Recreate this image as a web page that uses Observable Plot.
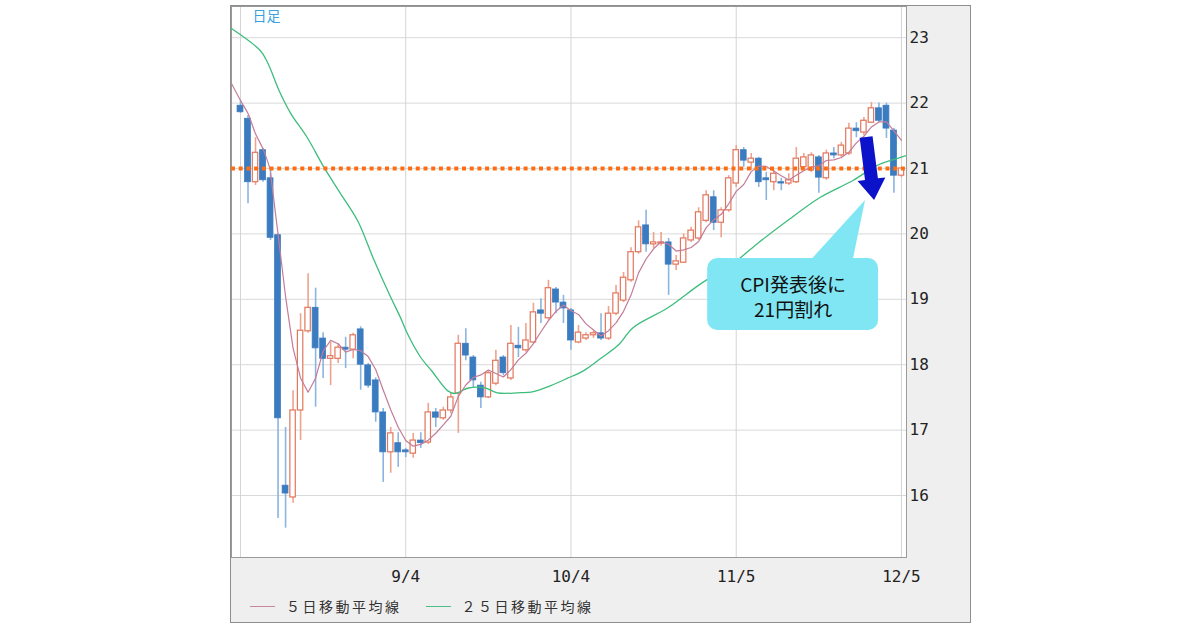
<!DOCTYPE html>
<html><head><meta charset="utf-8">
<script src="https://cdn.jsdelivr.net/npm/d3@7"></script>
<script src="https://cdn.jsdelivr.net/npm/@observablehq/plot@0.6"></script>
<style>
html,body{margin:0;padding:0;background:#fff;width:1200px;height:630px;overflow:hidden;}
#frame{position:absolute;left:230px;top:5px;width:741px;height:618px;box-sizing:border-box;border:1px solid #8e8e8e;background:#f0efef;}
#chart{position:absolute;left:0;top:0;}
#legend{position:absolute;left:19px;top:590px;display:flex;align-items:center;font-family:"Noto Sans CJK JP";font-size:14px;color:#333;letter-spacing:2.5px;white-space:nowrap;}
.sw{display:inline-block;width:25px;height:1px;margin-right:11px;}
</style></head><body>
<div id="frame"><div id="chart"></div>
<div id="legend"><span class="sw" style="background:#c9869d"></span><span>５日移動平均線</span><span class="sw" style="background:#4cbf88;margin-left:24px"></span><span>２５日移動平均線</span></div>
</div>
<script>
// ---- data (daily candles, index = trading day) ----
const opens = [21.96,21.76,20.79,21.28,20.85,19.98,16.15,15.97,17.3,18.51, 18.87,18.4,18.09,18.09,18.26,18.23,18.54,17.99,17.76,17.27, 16.66,16.8,16.69,16.64,16.84,16.81,17.27,17.18,17.3,17.56, 18.32,18.11,17.68,17.5,17.71,18.11,17.79,18.29,18.22,18.34, 18.83,18.71,19.15,18.95,18.83,18.34,18.4,18.45,18.48,18.4, 18.78,18.98,19.29,19.72,20.13,19.84,19.85,19.87,19.53,19.56, 19.9,19.93,20.2,20.56,20.17,20.36,20.77,21.28,21.09,21.15, 20.85,20.79,20.79,20.77,20.79,21.02,20.97,21.17,20.85,21.23, 21.2,21.23,21.61,21.55,21.7,21.92,21.96,21.58,20.89];
const highs = [22.04,21.81,21.47,21.31,20.97,20.0,17.04,17.6,18.78,19.39, 19.17,18.49,18.34,18.32,18.42,18.48,18.58,18.02,17.8,17.33, 17.04,16.96,16.72,16.95,16.96,17.41,17.33,17.35,17.57,18.45, 18.55,18.14,17.73,17.91,18.22,18.14,18.6,18.57,18.63,18.94, 19.01,19.29,19.18,19.06,18.86,18.6,18.49,18.51,18.78,18.89, 19.21,19.41,19.79,20.2,20.36,20.02,20.02,19.93,19.67,20.0, 20.1,20.4,20.66,20.66,20.4,20.89,21.35,21.32,21.23,21.17, 20.94,20.97,20.85,20.92,21.32,21.23,21.24,21.2,21.28,21.32, 21.4,21.69,21.7,21.78,22.01,22.0,22.0,21.61,21.0];
const lows = [21.84,20.46,20.74,20.79,19.9,15.65,15.5,15.88,16.84,18.48, 17.35,17.79,17.68,18.02,17.94,18.09,17.61,17.64,17.12,16.2, 16.34,16.43,16.58,16.57,16.72,16.78,17.04,17.15,17.25,16.95, 18.06,17.65,17.33,17.48,17.68,17.83,17.76,18.11,18.19,18.32, 18.63,18.68,18.78,18.63,18.22,18.32,18.37,18.4,18.37,18.37, 18.75,18.95,19.26,19.69,19.72,19.78,19.81,19.06,19.44,19.55, 19.87,19.9,20.17,20.05,19.94,20.33,20.71,21.02,20.97,20.71, 20.51,20.66,20.66,20.74,20.77,20.97,20.94,20.62,20.82,21.15, 21.17,21.2,21.47,21.5,21.69,21.7,21.46,20.62,20.86];
const closes = [21.86,20.79,21.24,20.82,19.94,17.18,16.03,17.3,18.52,18.87, 18.25,18.09,18.13,18.26,18.23,18.45,18.0,17.68,17.27,16.66, 16.95,16.66,16.66,16.84,16.8,17.27,17.19,17.3,17.5,18.32, 18.14,17.76,17.5,17.87,18.06,17.87,18.32,18.25,18.37,18.8, 18.78,19.17,18.95,18.86,18.37,18.49,18.45,18.48,18.4,18.78, 19.09,19.33,19.72,20.1,19.84,19.87,19.87,19.53,19.58,19.93, 20.05,20.33,20.59,20.17,20.36,20.85,21.28,21.12,21.15,20.79, 20.82,20.92,20.77,20.82,21.15,21.17,21.2,20.86,21.23,21.2, 21.35,21.61,21.57,21.73,21.92,21.73,21.61,20.89,21.0];

// 5-day MA at the very start (needs days before the first candle)
const ma5HeadDays = [-1.2, 0, 1, 2, 3, 4];
const ma5HeadValues = [22.3, 22.04, 21.84, 21.53, 21.3, 20.97];
// 25-day MA
const ma25Days = [-1.2, 2.66, 3.6, 5.3, 6.7, 8.9, 11.1, 13.3, 15.6, 17.7, 20, 21.3, 22.2, 24, 25.5, 27.6, 28.6, 30.2, 32.4, 34.2, 36.9, 39, 41.3, 43.5, 45.7, 47.9, 50.3, 52.3, 56.9, 61.3, 65.6, 68.8, 72.8, 77.2, 81.6, 84.8, 87.9, 88.67];
const ma25Values = [23.14, 22.8, 22.62, 22.15, 21.84, 21.47, 21.02, 20.62, 20.2, 19.62, 19.03, 18.72, 18.48, 18.11, 17.9, 17.6, 17.56, 17.64, 17.65, 17.57, 17.57, 17.59, 17.68, 17.79, 17.91, 18.09, 18.3, 18.57, 18.87, 19.24, 19.55, 19.85, 20.2, 20.56, 20.82, 21.05, 21.17, 21.2];

const yTicks = [16, 17, 18, 19, 20, 21, 22, 23];
const gridDays = [0, 22, 44, 66, 88];
const xTickDays = [22, 44, 66, 88];
const xTickLabels = ["9/4", "10/4", "11/5", "12/5"];
const level = 21;
const calloutLines = ["CPI発表後に", "21円割れ"];

// annotation anchors (data units)
const callout = {x1: 62.2, x2: 84.95, yTop: 19.624, yBottom: 18.523, textX: 73.57, textY: [19.211, 18.829],
                 ptrX1: 75.63, ptrX2: 81.49, ptrBase: 19.55, ptrTipX: 83.22, ptrTipY: 20.511};
const arrow = {x1: 83.36, y1: 21.474, x2: 84.42, y2: 20.511};

const candles = opens.map((o, i) => ({i, open: o, high: highs[i], low: lows[i], close: closes[i]}));
const isUp = d => d.close > d.open;
const isDown = d => !(d.close > d.open);
const labelOf = new Map(xTickDays.map((d, k) => [d, xTickLabels[k]]));

const RED = "#e2765c", RED_W = "#eea38d", BLUE = "#3b7cc0", BLUE_W = "#8ab5e0";

function annotations(index, scales) {
  const sx = scales.x, sy = scales.y;
  const g = d3.create("svg:g");
  const fillC = "#80e6f3";
  g.append("rect")
    .attr("x", sx(callout.x1)).attr("y", sy(callout.yTop))
    .attr("width", sx(callout.x2) - sx(callout.x1)).attr("height", sy(callout.yBottom) - sy(callout.yTop))
    .attr("rx", 10).attr("fill", fillC);
  g.append("polygon").attr("fill", fillC).attr("points", [
    [sx(callout.ptrX1), sy(callout.ptrBase)],
    [sx(callout.ptrTipX), sy(callout.ptrTipY)],
    [sx(callout.ptrX2), sy(callout.ptrBase)]
  ].map(p => p.join(",")).join(" "));
  // arrow
  const S = [sx(arrow.x1), sy(arrow.y1)], E = [sx(arrow.x2), sy(arrow.y2)];
  const dx = E[0] - S[0], dy = E[1] - S[1], L = Math.hypot(dx, dy);
  const u = [dx / L, dy / L], n = [-u[1], u[0]];
  const headLen = 21, hh = 14, sh = 6.5;
  const B = [E[0] - u[0] * headLen, E[1] - u[1] * headLen];
  const P = (p, k) => [p[0] + n[0] * k, p[1] + n[1] * k];
  const pts = [P(S, sh), P(B, sh), P(B, hh), E, P(B, -hh), P(B, -sh), P(S, -sh)];
  g.append("polygon").attr("fill", "#0b12c9").attr("points", pts.map(p => p.join(",")).join(" "));
  return g.node();
}

const chart = Plot.plot({
  width: 739, height: 589,
  marginLeft: 0, marginRight: 64, marginTop: 0, marginBottom: 38,
  style: {background: "transparent", fontFamily: "DejaVu Sans Mono", fontSize: "16px", color: "#222", overflow: "visible"},
  x: {type: "linear", domain: [-1.198, 88.67]},
  y: {type: "linear", domain: [15.052, 23.477]},
  marks: [
    Plot.frame({fill: "white"}),
    Plot.ruleY(yTicks, {stroke: "#d9d9d9", strokeWidth: 1}),
    Plot.ruleX(gridDays, {stroke: "#d4d4d4", strokeWidth: 1}),
    Plot.frame({stroke: "#9a9a9a"}),
    Plot.axisY(yTicks, {anchor: "right", tickSize: 0, tickPadding: 3, label: null, tickFormat: d => String(d)}),
    Plot.axisX(xTickDays, {anchor: "bottom", tickSize: 0, tickPadding: 13, label: null, tickFormat: d => labelOf.get(d)}),
    // wicks
    Plot.ruleX(candles, {filter: isUp, x: "i", y1: "low", y2: "high", stroke: RED_W, strokeWidth: 1.6}),
    Plot.ruleX(candles, {filter: isDown, x: "i", y1: "low", y2: "high", stroke: BLUE_W, strokeWidth: 1.6}),
    // bodies
    Plot.rect(candles, {filter: isUp, x1: d => d.i - 0.36, x2: d => d.i + 0.36, y1: "open", y2: "close", fill: "white", stroke: RED, strokeWidth: 1.2}),
    Plot.rect(candles, {filter: isDown, x1: d => d.i - 0.39, x2: d => d.i + 0.39, y1: "open", y2: "close", fill: BLUE, stroke: BLUE, strokeWidth: 0.8}),
    // moving averages
    Plot.line(ma25Days, {x: d => d, y: (d, k) => ma25Values[k], curve: "catmull-rom", stroke: "#3dbd7d", strokeWidth: 1.3, clip: true}),
    Plot.line(ma5HeadDays, {x: d => d, y: (d, k) => ma5HeadValues[k], curve: "catmull-rom", stroke: "#c47c98", strokeWidth: 1.2, clip: true}),
    Plot.lineY(candles, Plot.windowY({k: 5, anchor: "end", reduce: "mean", strict: true}, {x: "i", y: "close", stroke: "#c47c98", strokeWidth: 1.2})),
    // 21 yen level
    Plot.ruleY([level], {stroke: "#ff6d12", strokeWidth: 4, strokeDasharray: "4,3.7"}),
    annotations,
    Plot.text(calloutLines, {x: () => callout.textX, y: (d, k) => callout.textY[k], text: d => d, fontSize: 19, fontFamily: "Noto Sans CJK JP", fill: "#111", textAnchor: "middle"}),
    Plot.text(["日足"], {frameAnchor: "top-left", dx: 21, dy: 5, text: d => d, fill: "#3aa3df", fontSize: 14, fontFamily: "Noto Sans CJK JP", textAnchor: "start", lineAnchor: "top"})
  ]
});
document.getElementById("chart").appendChild(chart);
</script>
</body></html>
